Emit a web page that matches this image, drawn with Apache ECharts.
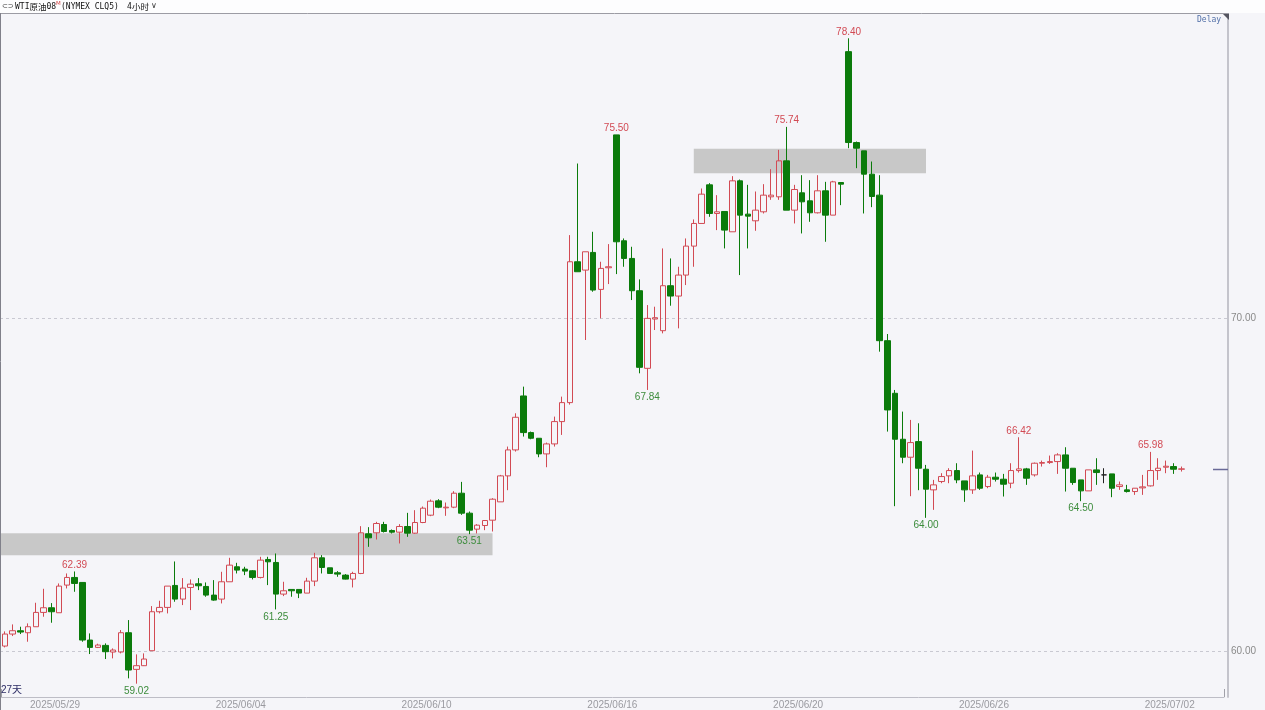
<!DOCTYPE html>
<html><head><meta charset="utf-8">
<script src="https://cdn.jsdelivr.net/npm/echarts@6/dist/echarts.min.js"></script>
<style>html,body{margin:0;padding:0;background:#f5f5f9;}#c{width:1265px;height:710px;}</style>
</head><body><div id="c"></div>
<script>
// ---- data (4-hour bars, WTI CLQ5) ----
const opens = [
60.15,60.51,60.61,60.55,60.73,61.16,61.30,61.15,61.98,62.21,
62.06,60.33,60.11,60.17,59.97,59.97,60.55,59.45,59.56,60.01,
61.18,61.31,61.97,61.56,61.91,62.02,61.94,61.68,61.56,62.08,
62.53,62.46,62.41,62.21,62.75,62.66,61.71,61.85,61.85,61.74,
62.10,62.80,62.50,62.35,62.28,62.16,62.33,63.52,63.55,63.80,
63.62,63.57,63.74,63.54,63.86,64.08,64.51,64.30,64.32,64.74,
64.14,63.66,63.77,63.93,64.48,65.26,66.04,67.66,66.56,66.39,
65.92,66.22,66.89,67.46,71.69,71.44,71.97,70.86,71.51,75.50,
72.32,71.79,70.82,68.49,69.97,69.62,70.97,70.66,71.29,72.16,
72.84,74.00,73.14,73.20,72.59,74.12,73.12,72.92,73.19,73.64,
73.64,74.72,73.24,73.76,73.52,73.16,73.82,73.09,74.07,78.00,
75.27,75.02,74.32,73.69,69.32,67.74,66.36,65.82,66.29,65.46,
64.84,65.09,65.26,65.42,65.11,64.84,65.29,64.94,65.22,65.16,
65.04,65.42,65.47,65.29,65.64,65.66,65.69,65.89,65.49,65.14,
64.81,65.44,65.29,65.32,64.94,64.84,64.79,64.90,64.96,65.42,
65.52,65.54,65.46];
const closes = [
60.51,60.61,60.57,60.73,61.16,61.30,61.18,61.95,62.21,62.03,
60.33,60.11,60.18,59.98,60.03,60.55,59.43,59.56,59.76,61.18,
61.31,61.95,61.56,61.89,62.01,61.96,61.68,61.53,62.08,62.58,
62.43,62.40,62.21,62.73,62.68,61.71,61.81,61.81,61.74,62.10,
62.80,62.51,62.33,62.31,62.16,62.33,63.55,63.40,63.83,63.59,
63.57,63.74,63.54,63.86,64.29,64.50,64.32,64.32,64.74,64.14,
63.63,63.78,63.92,64.56,65.26,66.04,67.02,66.56,66.39,65.92,
66.22,66.89,67.46,71.69,71.39,71.99,70.84,71.49,71.54,72.29,
71.79,70.82,68.52,69.99,70.01,70.97,70.66,71.29,72.16,72.84,
73.72,73.14,73.19,72.64,74.12,73.09,73.06,73.24,73.69,73.69,
74.72,73.24,73.86,73.49,73.16,73.82,73.09,74.09,74.02,75.27,
75.10,74.32,73.65,69.32,67.24,66.36,65.82,66.26,65.49,64.86,
64.99,65.24,65.42,65.14,64.84,65.26,64.89,65.22,65.16,65.01,
65.42,65.47,65.19,65.64,65.66,65.69,65.89,65.49,65.06,64.81,
65.44,65.36,65.29,64.89,64.99,64.79,64.89,64.93,65.42,65.49,
65.55,65.46,65.47];
const lows = [
60.11,60.45,60.51,60.28,60.73,61.03,60.85,61.15,61.88,61.78,
60.28,59.91,60.09,59.76,59.78,59.93,59.18,59.02,59.55,60.01,
61.13,61.13,61.48,61.38,61.23,61.83,61.63,61.51,61.43,62.08,
62.33,62.28,62.15,62.18,61.98,61.25,61.65,61.63,61.59,61.74,
61.95,62.33,62.33,62.23,62.15,61.91,62.31,63.13,63.35,63.56,
63.53,63.23,63.43,63.52,63.84,64.05,64.29,64.06,64.29,64.09,
63.51,63.53,63.63,63.59,64.48,64.83,65.99,66.44,66.36,65.82,
65.52,66.14,66.49,67.40,71.39,69.34,70.79,69.99,71.02,71.32,
71.54,70.54,68.34,67.84,69.64,69.54,70.37,69.69,70.99,71.54,
72.84,73.04,72.64,72.09,72.59,71.29,72.09,72.62,73.14,73.55,
73.55,73.24,72.84,72.54,72.89,73.14,72.29,73.09,73.39,75.10,
74.50,73.14,73.33,68.99,66.59,64.35,65.64,64.65,64.83,64.00,
64.24,65.04,65.04,65.04,64.48,64.72,64.84,64.89,65.09,64.64,
64.89,65.36,64.99,65.24,65.54,65.62,65.32,64.79,64.99,64.50,
64.81,64.99,65.04,64.62,64.84,64.76,64.69,64.69,64.94,65.14,
65.34,65.32,65.39];
const highs = [
60.59,60.80,60.73,60.83,61.45,61.87,61.44,62.03,62.33,62.39,
62.06,60.53,60.22,60.23,60.08,60.63,60.93,59.90,59.93,61.35,
61.51,61.95,62.69,62.19,62.15,62.19,62.06,62.13,62.38,62.80,
62.65,62.53,62.43,62.83,62.83,62.93,62.08,61.85,61.85,62.20,
62.95,62.88,62.50,62.40,62.31,62.38,63.75,63.72,63.88,63.88,
63.65,63.81,64.15,64.23,64.34,64.55,64.56,64.46,64.80,65.08,
64.19,63.81,63.93,64.59,65.29,66.14,67.14,67.94,66.59,66.39,
66.26,67.04,67.64,72.49,74.64,71.99,72.59,71.69,72.22,75.50,
72.39,72.14,71.16,70.39,70.34,72.09,71.79,71.54,72.39,72.96,
73.89,74.05,73.69,73.20,74.26,74.16,74.00,73.80,74.02,74.47,
75.05,75.74,74.00,74.29,74.14,74.29,74.09,74.12,74.07,78.40,
75.30,75.02,74.70,74.29,69.52,67.84,67.19,66.94,66.84,65.59,
65.14,65.34,65.49,65.64,65.11,66.02,65.36,65.29,65.36,65.32,
65.64,66.42,65.50,65.66,65.72,65.87,65.94,66.12,65.49,65.14,
65.44,65.79,65.49,65.32,65.09,64.99,64.89,65.29,65.98,65.79,
65.72,65.64,65.54];
// date tick labels: bar index where each labelled day begins
const dateTickIdx = [7, 31, 55, 79, 103, 127, 151];
const dateTickText = ['2025/05/29','2025/06/04','2025/06/10','2025/06/16','2025/06/20','2025/06/26','2025/07/02'];
// high / low annotations [barIndex, price]
const markHighs = [[9,62.39],[79,75.50],[101,75.74],[109,78.40],[131,66.42],[148,65.98]];
const markLows = [[17,59.02],[35,61.25],[60,63.51],[83,67.84],[119,64.00],[139,64.50]];
// shaded zones
const zoneFrom = [0, 89];
const zoneTo = [63, 119];
const zoneLow = [62.88, 74.35];
const zoneHigh = [63.54, 75.08];
// y gridlines / labels
const gridValues = [60, 70];
const yMin = 58.62, yMax = 79.16;
const emptySlots = 5;

// ---- build ----
const nBars = opens.length;
const cats = Array.from({length: nBars + emptySlots}, (_, i) => String(i));
const candleData = opens.map((o, i) => [o, closes[i], lows[i], highs[i]]);
const tickMap = {};
dateTickIdx.forEach((d, k) => { tickMap[d] = dateTickText[k]; });

const RED = '#d24a54', GREEN = '#0b7b0b';
const chart = echarts.init(document.getElementById('c'), null, {renderer: 'canvas'});
const option = {
  animation: false,
  backgroundColor: '#f5f5f9',
  grid: {left: 1, right: 41, top: 13, bottom: 13, containLabel: false},
  xAxis: {
    type: 'category', data: cats, boundaryGap: true,
    axisLine: {show: true, lineStyle: {color: '#bdbdc6', width: 1}},
    axisTick: {show: true, inside: true, length: 8, interval: (i) => i === 151, lineStyle: {color: '#a0a0a8'}},
    axisLabel: {
      interval: (i) => tickMap[i] !== undefined, margin: 3,
      formatter: (v, i) => tickMap[i] ? '{a|' + tickMap[i] + '}' : '',
      rich: {a: {padding: [0, 8, 0, 0], color: '#9a9aa0', fontSize: 10, fontFamily: 'Liberation Sans'}}
    },
    splitLine: {show: false}
  },
  yAxis: {
    type: 'value', position: 'right', offset: 4, min: yMin, max: yMax,
    axisLine: {show: true, lineStyle: {color: '#c4c4cc', width: 2}},
    axisTick: {show: false}, splitLine: {show: false},
    axisLabel: {
      color: '#8a8a8a', fontSize: 10, fontFamily: 'Liberation Sans', margin: 3,
      showMinLabel: false, showMaxLabel: false,
      formatter: (v) => gridValues.some(g => Math.abs(g - v) < 1e-6) ? v.toFixed(2) : ''
    }
  },
  series: [
    {
      type: 'custom', z: 0, silent: true, clip: false,
      data: gridValues.map(v => [0, v]),
      renderItem: (params, api) => {
        const y = Math.round(api.coord([0, api.value(1)])[1]) + 0.5;
        const cs = params.coordSys;
        return {type: 'line', shape: {x1: 0, y1: y, x2: cs.x + cs.width + 4, y2: y},
          style: {stroke: '#c9c9d2', lineWidth: 1, lineDash: [3, 3]}};
      }
    },
    {
      type: 'custom', z: 1, silent: true, clip: false,
      data: zoneFrom.map((f, k) => [f, zoneTo[k], zoneLow[k], zoneHigh[k]]),
      encode: {x: [0, 1], y: [2, 3]},
      renderItem: (params, api) => {
        const from = api.value(0), to = api.value(1);
        const pTop = api.coord([to, api.value(3)]);
        const pBot = api.coord([to, api.value(2)]);
        const pFrom = api.coord([from, api.value(3)]);
        const x1 = from === 0 ? 0 : pFrom[0];
        return {type: 'rect', shape: {x: x1, y: pTop[1], width: pTop[0] - x1, height: pBot[1] - pTop[1]},
          style: {fill: '#c8c8c8'}};
      }
    },
    {
      type: 'custom', z: 1, silent: true, clip: false,
      data: [[nBars - 1, closes[nBars - 1]]],
      renderItem: (params, api) => {
        const y = Math.round(api.coord([api.value(0), api.value(1)])[1]) + 0.5;
        const cs = params.coordSys;
        const xr = cs.x + cs.width + 4;
        return {type: 'line', shape: {x1: xr - 15, y1: y, x2: xr, y2: y},
          style: {stroke: '#6a6a98', lineWidth: 1.5}};
      }
    },
    {
      type: 'candlestick', z: 3, barWidth: 6,
      data: candleData,
      itemStyle: {
        color: 'rgba(0,0,0,0)', color0: GREEN,
        borderColor: RED, borderColor0: GREEN, borderColorDoji: '#222', borderWidth: 1
      },
      markPoint: {
        symbol: 'circle', symbolSize: 1, silent: true,
        itemStyle: {color: 'rgba(0,0,0,0)'},
        label: {show: true, fontSize: 10, fontFamily: 'Liberation Sans'},
        data: markHighs.map(([i, v]) => ({coord: [i, v], value: v.toFixed(2),
            label: {position: 'top', distance: 1, color: RED, formatter: v.toFixed(2)}}))
          .concat(markLows.map(([i, v]) => ({coord: [i, v], value: v.toFixed(2),
            label: {position: 'bottom', distance: 2, color: '#3c8c3c', formatter: v.toFixed(2)}})))
      }
    }
  ],
  graphic: [
    {type: 'rect', silent: true, z: 10, shape: {x: 0, y: 0, width: 1265, height: 13}, style: {fill: '#fdfdfe'}},
    {type: 'line', silent: true, z: 10, shape: {x1: 0, y1: 13.5, x2: 1229, y2: 13.5}, style: {stroke: '#9c9ca4', lineWidth: 1}},
    {type: 'line', silent: true, z: 10, shape: {x1: 0.5, y1: 13, x2: 0.5, y2: 710}, style: {stroke: '#80808a', lineWidth: 1}},
    {type: 'polygon', silent: true, z: 10, shape: {points: [[1223, 14], [1229, 14], [1229, 20]]}, style: {fill: '#555560'}},
    {type: 'text', silent: true, z: 10, x: 1197, y: 20, style: {text: 'Delay', fill: '#5270a8', font: '8px "DejaVu Sans Mono"', textVerticalAlign: 'middle'}},
    {type: 'text', silent: true, z: 11, x: 2, y: 6.5, style: {text: '⊂⊃', fill: '#333', font: '7px "DejaVu Sans"', textVerticalAlign: 'middle'}},
    {type: 'text', silent: true, z: 11, x: 15, y: 6.5, style: {text: 'WTI', fill: '#111', font: '8px "DejaVu Sans Mono"', textVerticalAlign: 'middle'}},
    {type: 'text', silent: true, z: 11, x: 29.5, y: 6.5, style: {text: '原油', fill: '#111', font: '8.5px "Noto Sans CJK SC"', textVerticalAlign: 'middle'}},
    {type: 'text', silent: true, z: 11, x: 46.5, y: 6.5, style: {text: '08', fill: '#111', font: '8px "DejaVu Sans Mono"', textVerticalAlign: 'middle'}},
    {type: 'text', silent: true, z: 11, x: 56, y: 4, style: {text: 'M', fill: '#d04040', font: '5.5px "DejaVu Sans"', textVerticalAlign: 'middle'}},
    {type: 'text', silent: true, z: 11, x: 61, y: 6.5, style: {text: '(NYMEX CLQ5)', fill: '#111', font: '8px "DejaVu Sans Mono"', textVerticalAlign: 'middle'}},
    {type: 'text', silent: true, z: 11, x: 127, y: 6.5, style: {text: '4', fill: '#111', font: '8px "DejaVu Sans Mono"', textVerticalAlign: 'middle'}},
    {type: 'text', silent: true, z: 11, x: 132, y: 6.5, style: {text: '小时', fill: '#111', font: '8.5px "Noto Sans CJK SC"', textVerticalAlign: 'middle'}},
    {type: 'text', silent: true, z: 11, x: 151, y: 6, style: {text: '∨', fill: '#333', font: '8px "DejaVu Sans"', textVerticalAlign: 'middle'}},
    {type: 'text', silent: true, z: 11, x: 1, y: 690.5, style: {text: '27天', fill: '#2d2d66', font: '10px "Liberation Sans", "Noto Sans CJK SC"', textVerticalAlign: 'middle'}}
  ]
};
chart.setOption(option);
</script>
</body></html>
